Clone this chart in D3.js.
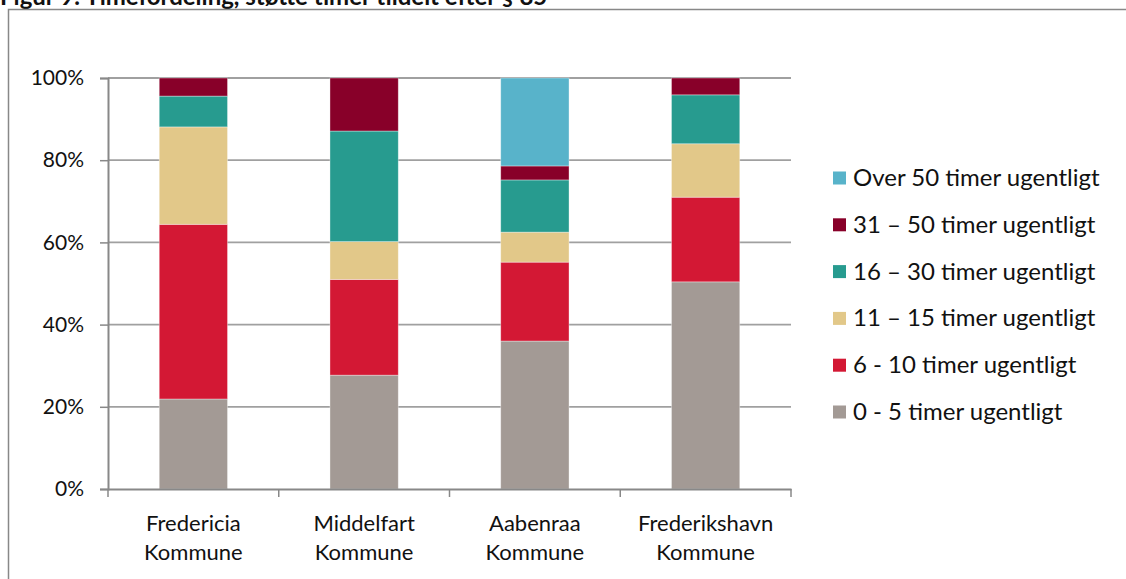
<!DOCTYPE html>
<html>
<head>
<meta charset="utf-8">
<script src="https://cdn.jsdelivr.net/npm/d3@7"></script>
<style>
  body { margin: 0; background: #fff; }
  svg { display: block; font-family: Lato, "Open Sans", sans-serif; }
</style>
</head>
<body>
<svg id="chart" width="1126" height="579"></svg>
<script>
// data (percent of each kommune)
var kommuner = ["Fredericia|Kommune", "Middelfart|Kommune", "Aabenraa|Kommune", "Frederikshavn|Kommune"];
var serier = ["0 - 5 timer ugentligt", "6 - 10 timer ugentligt", "11 \u2013 15 timer ugentligt",
  "16 \u2013 30 timer ugentligt", "31 \u2013 50 timer ugentligt", "Over 50 timer ugentligt"];
var farver = ["#a39a95", "#d31834", "#e2c889", "#279b8f", "#880029", "#58b3ca"];

var t0_5 = [21.9, 27.7, 36.0, 50.4];
var t6_10 = [42.5, 23.3, 19.2, 20.6];
var t11_15 = [23.7, 9.2, 7.3, 13.0];
var t16_30 = [7.5, 26.9, 12.7, 11.9];
var t31_50 = [4.4, 12.9, 3.4, 4.1];
var over50 = [0, 0, 21.4, 0];
var yTicks = [0, 20, 40, 60, 80, 100];

var values = [t0_5, t6_10, t11_15, t16_30, t31_50, over50];

var svg = d3.select("#chart");

// title (cut off at top like the source) and frame
svg.append("text")
  .attr("x", 0).attr("y", 5)
  .style("font-size", "24px").style("font-weight", "bold").attr("fill", "#111")
  .text("Figur 9: Timefordeling, st\u00f8tte timer tildelt efter \u00a7 85");
svg.append("path")
  .attr("d", "M8.5,590 V9.5 H1130")
  .attr("fill", "none").attr("stroke", "#888").attr("stroke-width", 1.5);

var x = d3.scaleBand()
  .domain(kommuner)
  .range([108, 791])
  .paddingInner(0.6)
  .paddingOuter(0.3);

var xAxisScale = d3.scaleBand().domain(kommuner).range([108, 791]);

var y = d3.scaleLinear().domain([0, 100]).range([489, 78]);

// gridlines
svg.append("g")
  .selectAll("line")
  .data(yTicks.filter(function(d) { return d > 0; }))
  .enter().append("line")
  .attr("x1", 108).attr("x2", 791)
  .attr("y1", function(d) { return y(d); })
  .attr("y2", function(d) { return y(d); })
  .attr("stroke", "#a0a0a0").attr("stroke-width", 1.8);

// stacked bars
var rows = kommuner.map(function(k, i) {
  var r = { k: k };
  serier.forEach(function(s, j) { r[s] = values[j][i]; });
  return r;
});
var stack = d3.stack().keys(serier)(rows);

svg.append("g")
  .selectAll("g")
  .data(stack)
  .enter().append("g")
  .attr("fill", function(d, i) { return farver[i]; })
  .selectAll("rect")
  .data(function(d) { return d; })
  .enter().append("rect")
  .attr("x", function(d) { return x(d.data.k); })
  .attr("width", x.bandwidth())
  .attr("y", function(d) { return y(d[1]); })
  .attr("height", function(d) { return y(d[0]) - y(d[1]); })
  .attr("stroke", "rgba(255,255,255,0.45)")
  .attr("stroke-width", 0.8);

// y axis
var yAxis = svg.append("g")
  .attr("transform", "translate(108,0)")
  .call(d3.axisLeft(y).tickValues(yTicks).tickSize(8).tickPadding(16)
    .tickFormat(function(d) { return d + "%"; }));
yAxis.select(".domain").attr("stroke", "#888").attr("stroke-width", 2);
yAxis.selectAll(".tick line").attr("stroke", "#888").attr("stroke-width", 1.5);
yAxis.selectAll(".tick text").attr("fill", "#111").style("font-size", "21px")
  .style("font-family", "Lato, sans-serif");

// x axis
var xAxis = svg.append("g")
  .attr("transform", "translate(0,489)")
  .call(d3.axisBottom(xAxisScale).tickSize(0).tickFormat(""));
xAxis.select(".domain").attr("stroke", "#888").attr("stroke-width", 2);
xAxis.selectAll(".tick").remove();

var bounds = [108].concat(kommuner.map(function(k) { return xAxisScale(k) + xAxisScale.bandwidth(); }));
xAxis.selectAll("line.sep")
  .data(bounds)
  .enter().append("line")
  .attr("class", "sep")
  .attr("x1", function(d) { return d; }).attr("x2", function(d) { return d; })
  .attr("y1", 0).attr("y2", 8)
  .attr("stroke", "#888").attr("stroke-width", 1.5);

var lbl = svg.append("g").selectAll("text")
  .data(kommuner)
  .enter().append("text")
  .attr("text-anchor", "middle")
  .attr("fill", "#111")
  .style("font-size", "22px");
lbl.each(function(d) {
  var parts = d.split("|");
  var t = d3.select(this);
  var cx = xAxisScale(d) + xAxisScale.bandwidth() / 2;
  t.append("tspan").attr("x", cx).attr("y", 531).text(parts[0]);
  t.append("tspan").attr("x", cx).attr("y", 560).text(parts[1]);
});

// legend (top series first)
var legend = svg.append("g")
  .selectAll("g")
  .data(serier.slice().reverse())
  .enter().append("g")
  .attr("transform", function(d, i) { return "translate(833," + (178 + i * 46.8) + ")"; });
legend.append("rect")
  .attr("x", 0).attr("y", -6.5).attr("width", 13).attr("height", 13)
  .attr("fill", function(d) { return farver[serier.indexOf(d)]; });
legend.append("text")
  .attr("x", 20).attr("y", 8)
  .attr("fill", "#111")
  .style("font-size", "24px")
  .text(function(d) { return d; });
</script>
</body>
</html>
